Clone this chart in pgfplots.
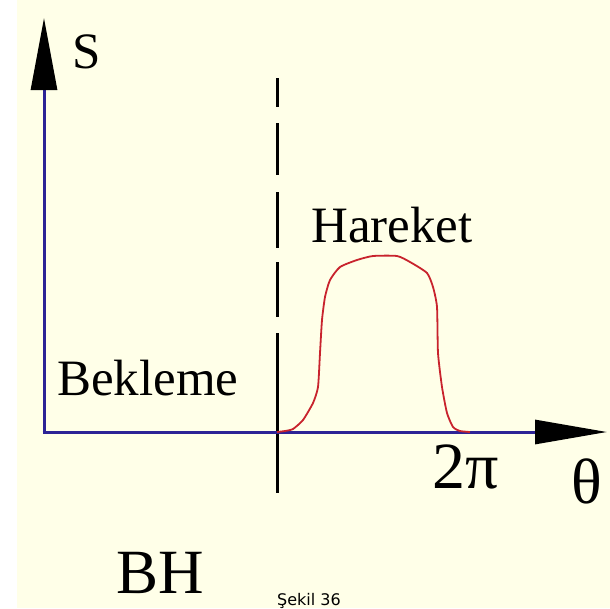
\documentclass[border=0pt]{standalone}
\usepackage{pgfplots}
\pgfplotsset{compat=1.18}
\usepackage{fontspec}
\setmainfont{Liberation Serif}
\newfontfamily\capfont{DejaVu Sans}
\usetikzlibrary{arrows.meta}
\definecolor{bgyellow}{RGB}{255,255,232}
\definecolor{axblue}{RGB}{45,35,150}
\definecolor{curvered}{RGB}{200,35,45}
\begin{document}
\begin{tikzpicture}
\begin{axis}[
  name=ax,
  scale only axis, width=610pt, height=608pt,
  xmin=0, xmax=610, ymin=0, ymax=608, y dir=reverse,
  hide axis, clip=false,
]
% background
\fill[bgyellow] (axis cs:0,0) rectangle (axis cs:610,608);
\fill[white] (axis cs:0,0) rectangle (axis cs:17,608);
% dashed vertical line
\addplot[black, line width=3pt] coordinates {(277,78) (277,107)};
\addplot[black, line width=3pt] coordinates {(277,123) (277,175)};
\addplot[black, line width=3pt] coordinates {(277,192) (277,248)};
\addplot[black, line width=3pt] coordinates {(277,262) (277,317)};
\addplot[black, line width=3pt] coordinates {(277,333) (277,493)};
% axes
\addplot[axblue, line width=3pt, -{Triangle[length=72pt, width=26pt, color=black, fill=black]}]
  coordinates {(44,433.5) (44,18)};
\addplot[axblue, line width=3pt, -{Triangle[length=72pt, width=24pt, color=black, fill=black]}]
  coordinates {(42.5,432) (607,432)};
% motion curve
\addplot[curvered, line width=1.8pt, smooth, tension=0.35] coordinates {
  (277,432) (285,431) (293,429) (303,420) (313,403) (318,387) (320,353)
  (322,320) (325,297) (330,280) (340,267) (357,260) (373,256) (397,256)
  (410,262) (427,273) (433,287) (437,307) (438,353) (442,387) (447,413)
  (453,427) (460,431) (470,432)};
% labels
\node[anchor=base west, inner sep=0pt, font=\fontsize{51}{60}\selectfont] at (axis cs:72,68) {S};
\node[anchor=base west, inner sep=0pt, font=\fontsize{51}{60}\selectfont] at (axis cs:311,242) {Hareket};
\node[anchor=base west, inner sep=0pt, font=\fontsize{51}{60}\selectfont] at (axis cs:57,395) {Bekleme};
\node[anchor=base west, inner sep=0pt, font=\fontsize{66}{70}\selectfont] at (axis cs:432,488) {2π};
\node[anchor=base west, inner sep=0pt, font=\fontsize{64}{70}\selectfont] at (axis cs:571,503) {θ};
\node[anchor=base west, inner sep=0pt, font=\fontsize{63}{70}\selectfont] at (axis cs:116,593) {BH};
\node[anchor=base, inner sep=0pt, font=\capfont\fontsize{16}{18}\selectfont] at (axis cs:309,605) {Şekil 36};
\end{axis}
\pgfresetboundingbox
\useasboundingbox (ax.south west) rectangle (ax.north east);
\end{tikzpicture}
\end{document}
